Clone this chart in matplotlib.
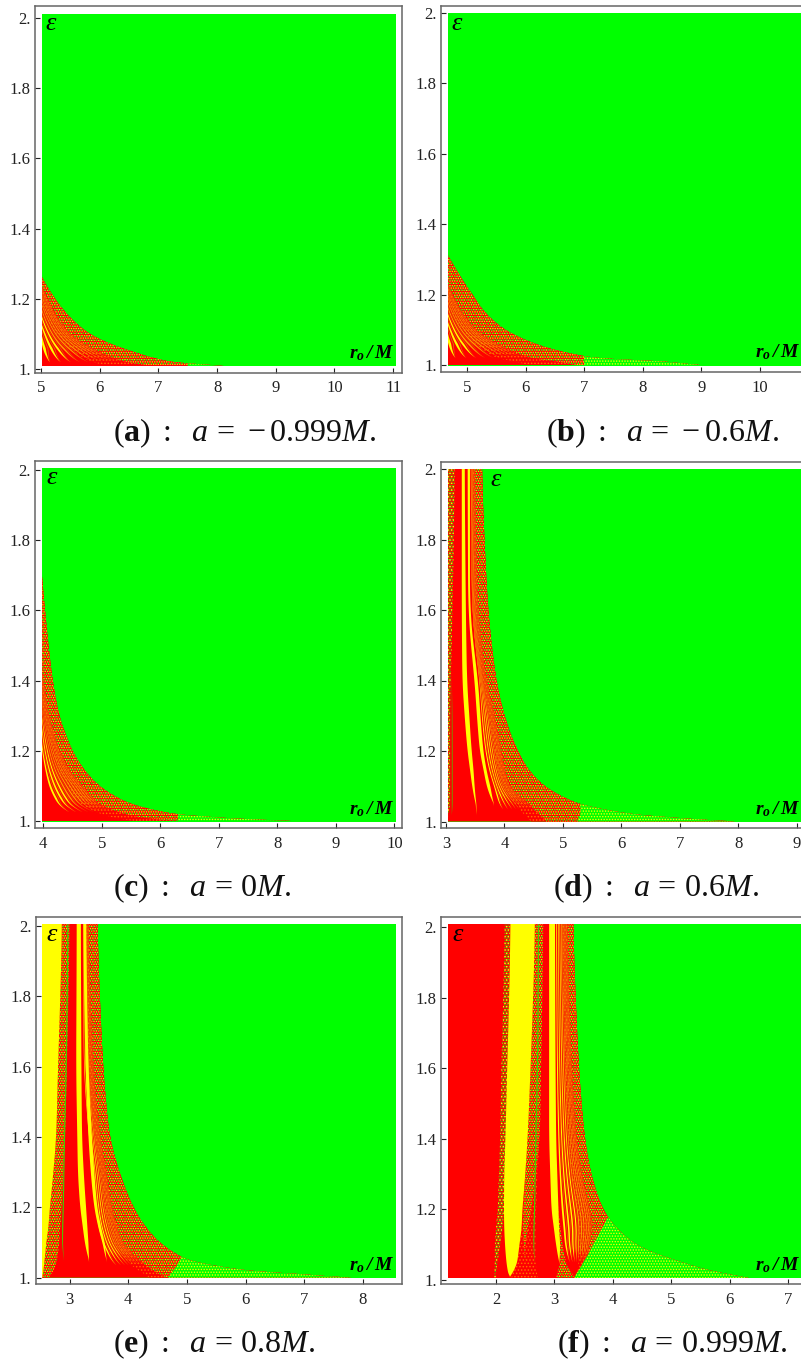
"""
Escape maps for six spin values, red / yellow / green regions
"""
import numpy as np
import matplotlib
matplotlib.use("Agg")
import matplotlib.pyplot as plt

plt.rcParams["font.family"] = ["Liberation Serif", "DejaVu Serif"]
plt.rcParams["mathtext.fontset"] = "custom"
plt.rcParams["mathtext.rm"] = "Liberation Serif"
plt.rcParams["mathtext.it"] = "Liberation Serif:italic"
plt.rcParams["mathtext.bf"] = "Liberation Serif:bold"
plt.rcParams["mathtext.bfit"] = "Liberation Serif:italic:bold"
plt.rcParams["hatch.linewidth"] = 0.65

W, H = 801, 1364
RED, YELLOW, GREEN = "#ff0000", "#ffff00", "#00ff00"

CAPTIONS = [r"$(\mathbf{a})\ :\ \ a\,=\,-0.999M.$", r"$(\mathbf{b})\ :\ \ a\,=\,-0.6M.$",
            r"$(\mathbf{c})\ :\ \ a\,=\,0M.$", r"$(\mathbf{d})\ :\ \ a\,=\,0.6M.$",
            r"$(\mathbf{e})\ :\ \ a\,=\,0.8M.$", r"$(\mathbf{f})\ :\ \ a\,=\,0.999M.$"]
CAPTION_X = [113, 546, 113, 553, 113, 557]
CAPTION_Y = [441.5, 441.5, 896, 896, 1352, 1352]
EPS_X = [51, 457, 52, 496, 52, 458]

# frame in pixels: left, right, top, bottom
FRAMES = [(35, 402, 6, 372.7), (441, 807, 6, 372.3),
          (35, 402, 461, 828), (441, 807, 462, 828),
          (35.7, 402, 917, 1284), (441, 807, 917, 1284)]
# map in pixels: left, right, top, bottom
MAPS = [(42, 396, 13.5, 365.7), (447.5, 802, 13.3, 365.5),
        (42.3, 396, 468, 822), (447.7, 802, 469, 821.7),
        (42, 396, 924, 1277.7), (448, 802, 924, 1278)]
# pixel of first x tick, pixel per unit
X_CAL = [(41, 58.7), (467, 58.6), (43.3, 58.5), (446, 58.45), (69.7, 58.6), (496, 58.4)]
# pixel of E=1 and pixel of E=2
Y_CAL = [(369.2, 17.5), (365, 13), (821, 470), (821.5, 469), (1277.7, 925.7), (1280, 927)]
X_TICKS = [[5, 6, 7, 8, 9, 10, 11], [5, 6, 7, 8, 9, 10], [4, 5, 6, 7, 8, 9, 10],
           [3, 4, 5, 6, 7, 8, 9], [3, 4, 5, 6, 7, 8], [2, 3, 4, 5, 6, 7]]
Y_TICKS = [1.0, 1.2, 1.4, 1.6, 1.8, 2.0]
Y_LABELS = ["1.", "1.2", "1.4", "1.6", "1.8", "2."]

# every r list below is read at these energies
E_LEVELS = [1.0, 1.01, 1.02, 1.05, 1.1, 1.15, 1.2, 1.3, 1.4, 1.6, 2.0]

# outer edge of the non-green area
BOUND = [[8.6, 8.1, 7.25, 6.57, 5.83, 5.48, 5.24, 4.9, 4.7, 4.5, 4.3],
         [9.0, 8.4, 7.2, 6.35, 5.65, 5.3, 5.1, 4.72, 4.4, 4.2, 4.0],
         [8.3, 7.0, 6.25, 5.48, 4.96, 4.68, 4.5, 4.27, 4.16, 4.03, 3.85],
         [8.0, 7.0, 6.25, 5.28, 4.69, 4.4, 4.23, 4.0, 3.86, 3.72, 3.61],
         [7.85, 6.98, 6.07, 5.02, 4.54, 4.27, 4.09, 3.85, 3.68, 3.57, 3.47],
         [6.56, 6.2, 5.88, 5.2, 4.40, 4.05, 3.83, 3.63, 3.52, 3.42, 3.32]]
# left edge of the speckled zone next to the boundary
MIX_EDGE = [[7.2, 6.9, 6.46, 6.0, 5.5, 5.27, 5.1, 4.9, 4.75, 4.6, 4.4],
            [6.9, 6.55, 6.1, 5.65, 5.15, 4.92, 4.75, 4.55, 4.4, 4.25, 4.05],
            [6.3, 5.7, 5.4, 4.95, 4.68, 4.42, 4.28, 4.1, 4.0, 3.85, 3.7],
            [4.72, 4.66, 4.6, 4.43, 4.09, 4.0, 3.95, 3.84, 3.69, 3.55, 3.49],
            [4.65, 4.54, 4.43, 4.2, 3.91, 3.8, 3.72, 3.63, 3.52, 3.4, 3.32],
            [3.4, 3.45, 3.42, 3.55, 3.6, 3.65, 3.62, 3.47, 3.38, 3.3, 3.22]]
# left edge of the striped fan
INNER = [[5.4, 5.3, 5.15, 5.05, 4.98, 4.9, 4.85, 4.75, 4.65, 4.5, 4.4],
         [5.05, 4.95, 4.8, 4.7, 4.63, 4.55, 4.5, 4.4, 4.3, 4.15, 4.05],
         [4.7, 4.6, 4.5, 4.25, 4.1, 4.03, 3.98, 3.92, 3.85, 3.7, 3.6],
         [4.15, 4.09, 4.03, 3.89, 3.81, 3.72, 3.66, 3.6, 3.57, 3.44, 3.42],
         [4.03, 3.97, 3.89, 3.69, 3.55, 3.47, 3.43, 3.38, 3.32, 3.23, 3.23],
         [3.35, 3.35, 3.33, 3.25, 3.16, 3.13, 3.1, 3.07, 3.05, 3.03, 3.02]]
# where the low energy yellow-green zone starts
LIME_EDGE = [[7.5] * 11, [7.0] * 11, [6.3] * 11,
             [5.25, 5.27, 5.3, 5.3, 5.3, 5.3, 5.3, 5.3, 5.3, 5.3, 5.3],
             [4.68, 4.72, 4.76, 4.88, 5.0, 5.0, 5.0, 5.0, 5.0, 5.0, 5.0],
             [3.32, 3.35, 3.38, 3.49, 3.655, 3.82, 3.99, 4.3, 4.6, 5.0, 5.0]]
# stripes: position across the fan, and lowest energy they reach
FAN = [[0.0, 0.14, 0.27, 0.39, 0.5, 0.6, 0.69, 0.77, 0.84, 0.91, 0.97],
       [0.0, 0.14, 0.27, 0.39, 0.5, 0.6, 0.69, 0.77, 0.84, 0.91, 0.97],
       [0.0, 0.14, 0.27, 0.39, 0.5, 0.6, 0.69, 0.77, 0.84, 0.91, 0.97],
       [0.05, 0.2, 0.33, 0.45, 0.55, 0.64, 0.72, 0.8, 0.87, 0.93, 0.98],
       [0.05, 0.2, 0.33, 0.45, 0.55, 0.64, 0.72, 0.8, 0.87, 0.93, 0.98],
       [0.05, 0.2, 0.33, 0.45, 0.55, 0.64, 0.72, 0.8, 0.87, 0.93, 0.98]]
FAN_E_MIN = [1.02, 1.02, 1.025, 1.035, 1.035, 1.05]
FAN_BRIGHT = [3, 3, 3, 4, 4, 4]

# explicit bands: style, left r, right r
D_BANDS = [("weed", [3.03] * 11, [3.03, 3.03, 3.04, 3.07, 3.07, 3.07, 3.07, 3.07, 3.08, 3.11, 3.15]),
           ("green", [3.1] * 11, [3.1, 3.1, 3.1, 3.112, 3.112, 3.112, 3.112, 3.11, 3.1, 3.1, 3.1]),
           ("yellow", [3.52, 3.52, 3.52, 3.51, 3.45, 3.41, 3.37, 3.32, 3.28, 3.27, 3.27],
            [3.52, 3.52, 3.52, 3.52, 3.49, 3.47, 3.44, 3.40, 3.36, 3.34, 3.32]),
           ("yellow", [3.82, 3.82, 3.82, 3.82, 3.70, 3.64, 3.58, 3.53, 3.49, 3.38, 3.37],
            [3.82, 3.82, 3.82, 3.82, 3.76, 3.69, 3.64, 3.59, 3.55, 3.41, 3.41])]
E_BANDS = [("mix", [2.53, 2.54, 2.55, 2.57, 2.6, 2.64, 2.66, 2.72, 2.77, 2.8, 2.87],
            [2.64, 2.68, 2.72, 2.78, 2.82, 2.84, 2.86, 2.89, 2.92, 2.95, 3.0]),
           ("yellow", [2.5] * 11, [2.53, 2.54, 2.55, 2.57, 2.6, 2.64, 2.66, 2.72, 2.77, 2.8, 2.87]),
           ("green", [2.9, 2.9, 2.9, 2.9, 2.87, 2.87, 2.88, 2.89, 2.9, 2.93, 2.96],
            [2.9, 2.9, 2.9, 2.9, 2.885, 2.89, 2.9, 2.91, 2.92, 2.95, 2.98]),
           ("yellow", [3.33, 3.33, 3.33, 3.33, 3.26, 3.22, 3.18, 3.14, 3.13, 3.11, 3.12],
            [3.33, 3.33, 3.33, 3.33, 3.32, 3.3, 3.28, 3.24, 3.21, 3.2, 3.19]),
           ("yellow", [3.63, 3.63, 3.63, 3.63, 3.56, 3.48, 3.42, 3.36, 3.32, 3.27, 3.23],
            [3.63, 3.63, 3.63, 3.63, 3.6, 3.53, 3.47, 3.42, 3.38, 3.32, 3.28])]
F_BANDS = [("weed", [1.98, 1.97, 1.97, 1.98, 1.98, 2.0, 2.03, 2.05, 2.07, 2.09, 2.15],
            [1.98, 2.0, 2.0, 2.02, 2.07, 2.11, 2.14, 2.15, 2.17, 2.19, 2.24]),
           ("sparse", [2.24, 2.27, 2.28, 2.36, 2.40, 2.44, 2.45, 2.5, 2.54, 2.59, 2.67],
            [2.72, 2.72, 2.7, 2.68, 2.68, 2.68, 2.69, 2.71, 2.75, 2.77, 2.81]),
           ("mix", [2.5, 2.5, 2.5, 2.5, 2.48, 2.46, 2.47, 2.5, 2.54, 2.59, 2.67],
            [2.5, 2.5, 2.5, 2.5, 2.5, 2.55, 2.6, 2.68, 2.75, 2.77, 2.81]),
           ("green", [2.66, 2.66, 2.66, 2.66, 2.64, 2.64, 2.65, 2.66, 2.67, 2.7, 2.72],
            [2.66, 2.66, 2.66, 2.66, 2.655, 2.66, 2.67, 2.68, 2.69, 2.72, 2.74]),
           ("yellow", [2.24, 2.24, 2.21, 2.18, 2.155, 2.14, 2.136, 2.14, 2.16, 2.19, 2.25],
            [2.24, 2.24, 2.28, 2.36, 2.40, 2.44, 2.45, 2.5, 2.54, 2.59, 2.67]),
           ("mix", [3.03, 3.03, 3.05, 3.1, 3.1, 3.08, 3.07, 3.07, 3.05, 3.03, 3.02],
            [3.33, 3.33, 3.3, 3.2, 3.14, 3.1, 3.07, 3.07, 3.05, 3.03, 3.02]),
           ("yellow", [3.085, 3.085, 3.085, 3.085, 3.03, 2.99, 2.95, 2.93, 2.91, 2.91, 2.91],
            [3.085, 3.085, 3.085, 3.085, 3.10, 3.08, 3.07, 3.05, 3.03, 3.02, 3.01])]
BANDS = [[], [], [], D_BANDS, E_BANDS, F_BANDS]

E_FINE = 0.99 + np.geomspace(0.01, 1.03, 1600)
STYLES = {"red": [(RED, None, None)],
          "yellow": [(YELLOW, None, None)],
          "amber": [("#f8a800", None, None)],
          "green": [("#40d000", None, None)],
          "dim": [("#c89000", None, None)],
          "mix": [(RED, None, None), ("none", YELLOW, "......."), ("none", GREEN, ".....")],
          "weed": [(RED, None, None), ("none", GREEN, "......."), ("none", YELLOW, ".....")],
          "sparse": [(RED, None, None), ("none", "#ff7000", ".....")],
          "lime": [(GREEN, None, None), ("none", YELLOW, "......")]}


def at(r_list):
    # read a list on the fine energy scale, rounding off the kinks
    values = np.interp(np.log(E_FINE - 0.99), np.log(np.array(E_LEVELS) - 0.99), r_list)
    pad = np.r_[[values[0]] * 50, values, [values[-1]] * 50]
    return np.convolve(pad, np.ones(101) / 101, mode="same")[50:-50]


def band(ax, clip, left, right, style):
    keep = right > left
    if not keep.any():
        return
    x = np.r_[left[keep], right[keep][::-1]]
    y = np.r_[E_FINE[keep], E_FINE[keep][::-1]]
    for face, edge, hatch in STYLES[style]:
        for patch in ax.fill(x, y, facecolor=face, edgecolor=edge or "none", hatch=hatch, linewidth=0):
            patch.set_clip_path(clip)


fig = plt.figure(figsize=(W / 100, H / 100), dpi=100)
for i in range(6):
    fl, fr, ft, fb = FRAMES[i]
    ml, mr, mt, mb = MAPS[i]
    ax = fig.add_axes([fl / W, 1 - fb / H, (fr - fl) / W, (fb - ft) / H])
    tick0, per_unit = X_CAL[i]
    e1, e2 = Y_CAL[i]
    to_r = lambda px: X_TICKS[i][0] + (px - tick0) / per_unit
    to_e = lambda px: 1 + (e1 - px) / (e1 - e2)
    ax.set_xlim(to_r(fl), to_r(fr))
    ax.set_ylim(to_e(fb), to_e(ft))

    clip = plt.Rectangle((to_r(ml), to_e(mb)), to_r(mr) - to_r(ml), to_e(mt) - to_e(mb),
                         facecolor=GREEN, linewidth=0)
    ax.add_patch(clip)
    bound, edge, inner = at(BOUND[i]), at(MIX_EDGE[i]), at(INNER[i])
    band(ax, clip, np.full_like(bound, to_r(ml) - 1), bound, "red")
    # thin speckle ahead of the full speckled zone
    band(ax, clip, edge - 0.45 * (edge - inner), bound, "sparse")
    band(ax, clip, edge, bound, "mix")

    stops = FAN[i] + [1.0]
    taper = np.clip((E_FINE - FAN_E_MIN[i]) / 0.04, 0, 1)
    for n, (f, f_next) in enumerate(zip(stops[:-1], stops[1:])):
        gap = (f_next - f) * taper * (edge - inner)
        start = inner + f * (edge - inner)
        band(ax, clip, start, start + 0.4 * gap, "yellow" if n < FAN_BRIGHT[i] else "amber")
        band(ax, clip, start + 0.66 * gap, start + 0.78 * gap, "dim")
    for style, r_left, r_right in BANDS[i]:
        band(ax, clip, at(r_left), at(r_right), style)
    band(ax, clip, at(LIME_EDGE[i]), bound, "lime")

    ax.set_xticks(X_TICKS[i])
    ax.set_yticks(Y_TICKS)
    ax.set_yticklabels(Y_LABELS)
    ax.tick_params(axis="x", direction="in", length=3.6, width=0.8, pad=5.5, labelsize=12, colors="#222222")
    ax.tick_params(axis="y", direction="in", length=3.6, width=0.8, pad=3, labelsize=12, colors="#222222")
    for spine in ax.spines.values():
        spine.set_linewidth(1.1)
        spine.set_color("#666666")

    ax.text(to_r(EPS_X[i]), to_e(mt + 10.5), "ε", style="italic", fontsize=19,
            ha="center", va="center", color="black")
    ax.text(to_r(mr - 2), to_e(mb - 13), r"$\mathbfit{r_o\,/\,M}$", fontsize=14,
            ha="right", va="center", color="black")
    fig.text(CAPTION_X[i] / W, 1 - CAPTION_Y[i] / H, CAPTIONS[i], fontsize=23, ha="left", va="baseline",
             color="#111111")

fig.savefig("out.png", dpi=100)
